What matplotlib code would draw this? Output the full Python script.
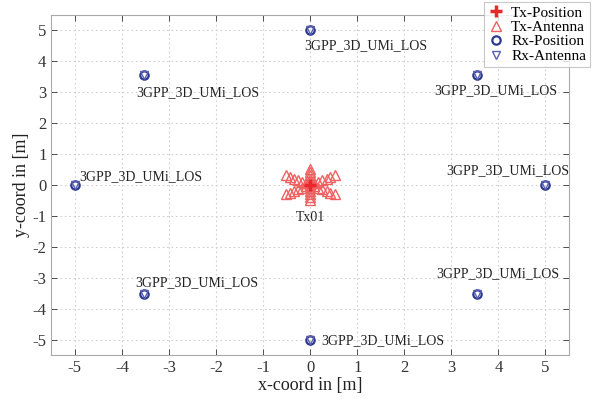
import numpy as np
import matplotlib
matplotlib.use("Agg")
import matplotlib.pyplot as plt

plt.rcParams['font.family'] = ['Liberation Serif', 'DejaVu Serif']
plt.rcParams['axes.unicode_minus'] = False

# Tx position and antenna element offsets
tx_pos = [0.0, 0.0]
tx_ant_x = [0, 0, 0, 0, 0, 0, 0, 0, 0, 0, 0,
            0.09, 0.17, 0.26, 0.35, 0.43, 0.52,
            -0.09, -0.17, -0.26, -0.35, -0.43, -0.52,
            0.09, 0.17, 0.26, 0.35, 0.43, 0.52,
            -0.09, -0.17, -0.26, -0.35, -0.43, -0.52]
tx_ant_y = [0, 0.1, 0.2, 0.3, 0.4, 0.5, -0.1, -0.2, -0.3, -0.4, -0.5,
            0.05, 0.1, 0.15, 0.2, 0.25, 0.3,
            -0.05, -0.1, -0.15, -0.2, -0.25, -0.3,
            -0.05, -0.1, -0.15, -0.2, -0.25, -0.3,
            0.05, 0.1, 0.15, 0.2, 0.25, 0.3]

# Rx positions
rx_x = [0, 3.54, 5, 3.54, 0, -3.54, -5, -3.54]
rx_y = [5, 3.54, 0, -3.54, -5, -3.54, 0, 3.54]
rx_names = ["3GPP_3D_UMi_LOS"] * 8
# label anchor (left, center) in data coords
lab_x = [-0.13, 2.64, 2.90, 2.68, 0.23, -3.72, -4.90, -3.70]
lab_y = [4.48, 3.03, 0.45, -2.87, -5.03, -3.16, 0.26, 2.97]

ticks = [-5, -4, -3, -2, -1, 0, 1, 2, 3, 4, 5]

fig = plt.figure(figsize=(6.04, 4.03), dpi=100)
ax = fig.add_axes([0.085, 0.119, 0.857, 0.845])

red = '#e8282b'
blue = '#2b3a8f'

h1, = ax.plot([tx_pos[0]], [tx_pos[1]], marker='+', color=red, ms=9, mew=2.5,
              ls='none', label='Tx-Position', zorder=4)
h2, = ax.plot(tx_ant_x, tx_ant_y, marker='^', mfc='none', mec='#f06060', ms=7,
              mew=1.0, ls='none', label='Tx-Antenna', zorder=3)
h3, = ax.plot(rx_x, rx_y, marker='o', mfc='none', mec=blue, ms=6, mew=1.6,
              ls='none', label='Rx-Position', zorder=3)
h4, = ax.plot(rx_x, rx_y, marker='v', mfc='none', mec='#5a5fb0', ms=5.5, mew=1.0,
              ls='none', label='Rx-Antenna', zorder=3)

for x, y, n in zip(lab_x, lab_y, rx_names):
    ax.text(x, y, n, fontsize=10, ha='left', va='center', color='#222222')
ax.text(0, -1.06, 'Tx01', fontsize=10, ha='center', va='center', color='#222222')

ax.set_xlim(-5.5, 5.5)
ax.set_ylim(-5.5, 5.5)
ax.set_xticks(ticks)
ax.set_yticks(ticks)
ax.tick_params(direction='in', top=True, right=True, labelsize=12,
               colors='#333333', length=4, width=0.6)
ax.grid(True, ls=(0, (1.5, 2.5)), color='#d0d0d0', lw=0.8)
for s in ax.spines.values():
    s.set_color('#aaaaaa')
    s.set_linewidth(0.8)
ax.set_xlabel('x-coord in [m]', fontsize=13, color='#222222', labelpad=1)
ax.set_ylabel('y-coord in [m]', fontsize=13, color='#222222', labelpad=2)

leg = fig.legend(handles=[h1, h2, h3, h4], loc='upper right',
                 bbox_to_anchor=(590 / 604, 1 - 2 / 403), fontsize=11,
                 frameon=True, fancybox=False, edgecolor='#bbbbbb',
                 handlelength=1.0, handletextpad=0.5, borderpad=0.25,
                 labelspacing=0.05, borderaxespad=0)
leg.get_frame().set_linewidth(0.8)

fig.savefig('out.png', dpi=100)
